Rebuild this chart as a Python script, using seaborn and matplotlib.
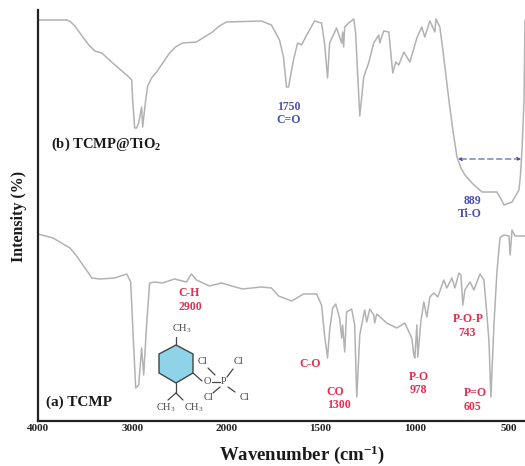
import numpy as np
import pandas as pd
import matplotlib
matplotlib.use("Agg")
import matplotlib.pyplot as plt
from matplotlib.patches import Polygon
import seaborn as sns

# ---- data ----
wn_b = [4000,3693,3651,3609,3524,3460,3397,3323,3207,3048,3005,2995,2974,2953,2931,2900,2889,2857,2836,2794,2741,2603,2540,2466,2318,2148,2074,2000,
        1814,1761,1718,1697,1689,1681,1670,1644,1622,1601,1574,1532,1495,1479,1463,1452,1415,1399,1388,1383,1378,1372,1351,1324,1314,
        1292,1271,1245,1218,1191,1186,1165,1138,1117,1101,1085,1058,1026,989,963,947,920,893,888,867,851,835,819,798,776,755,734,691,643,564,548,526,484,447,439,431,420,415]
int_b = [401,401,399,395,384,376,370,368,358,345,341,321,293,293,298,314,294,321,335,343,349,368,374,378,379,389,395,399,
         400,396,381,364,349,334,334,361,378,376,386,400,398,378,343,378,393,384,378,389,374,394,398,402,388,
         305,344,358,378,386,378,390,389,348,359,356,369,359,383,394,384,400,389,402,394,371,346,321,291,264,253,246,237,229,229,224,216,219,231,246,271,321,401]
wn_a = [4000,3841,3661,3598,3524,3471,3429,3344,3185,3058,3016,2995,2963,2931,2900,2878,2847,2815,2762,2678,2551,2424,2371,2318,2180,2053,
        1915,1814,1761,1723,1654,1590,1521,1495,1479,1463,1452,1436,1420,1399,1388,1383,1372,1362,1335,1319,1308,1292,1282,1266,1255,1239,1218,1213,1202,
        1149,1096,1053,1016,1005,1000,989,984,968,952,936,920,899,878,846,830,803,787,766,755,745,734,707,686,654,633,617,606,596,580,564,556,548,537,526,500,494,484,468,415]
int_a = [187,183,173,166,156,149,143,142,143,147,139,96,33,36,73,46,96,138,139,138,142,139,147,141,135,138,
         132,134,133,125,120,127,127,116,86,63,91,113,117,103,83,96,69,109,112,96,24,86,96,111,99,112,106,98,107,
         98,93,98,83,66,63,96,64,99,119,104,124,128,124,141,133,143,133,148,146,116,131,139,131,147,141,106,79,24,96,149,166,183,185,186,185,166,191,185,185]
x_ticks = [4000, 3000, 2000, 1500, 1000, 500]
arrow_span = [771, 436]
arrow_level = 262

BLUE = "#4a4fb0"
RED = "#e2304e"
DARK = "#222222"
GREY = "#b2b2b2"

sns.set_theme(style="white")
plt.rcParams["font.family"] = ["Liberation Serif", "DejaVu Serif"]
plt.rcParams["mathtext.default"] = "regular"

W, H = 525, 466
fig = plt.figure(figsize=(W / 100, H / 100), dpi=100, facecolor="white")
ax = fig.add_axes([38 / W, (H - 421) / H, (W - 38) / W, 411 / H])

df = pd.concat([
    pd.DataFrame({"wn": wn_b, "i": int_b, "s": "b"}),
    pd.DataFrame({"wn": wn_a, "i": int_a, "s": "a"}),
])
sns.lineplot(data=df, x="wn", y="i", units="s", estimator=None, sort=False,
             color=GREY, linewidth=1.1, ax=ax, legend=False)

def fwd(x):
    x = np.asarray(x, dtype=float)
    return np.where(x > 2000, 2000 + (x - 2000) * 0.5, x)

def inv(y):
    y = np.asarray(y, dtype=float)
    return np.where(y > 2000, 2000 + (y - 2000) * 2.0, y)

ax.set_xscale("function", functions=(fwd, inv))
ax.set_xlim(4000, 415)
ax.set_ylim(0, 411)
ax.set_xticks(x_ticks)
ax.set_xticklabels([str(t) for t in x_ticks], fontsize=8, fontweight="bold", color=DARK)
ax.minorticks_off()
ax.set_yticks([])
ax.tick_params(axis="x", length=0, pad=2)
ax.set_xlabel("")
ax.set_ylabel("")
for side in ("top", "right"):
    ax.spines[side].set_visible(False)
for side in ("left", "bottom"):
    ax.spines[side].set_color(DARK)
    ax.spines[side].set_linewidth(1.6)

ax.annotate("", xy=(arrow_span[0], arrow_level), xytext=(arrow_span[1], arrow_level),
            arrowprops=dict(arrowstyle="<|-|>", color=BLUE, lw=0.8, ls=(0, (5, 3)),
                            mutation_scale=5, shrinkA=0, shrinkB=0))

# overlay in picture coordinates for the annotations and the structure sketch
ov = fig.add_axes([0, 0, 1, 1], facecolor="none")
ov.set_xlim(0, W)
ov.set_ylim(H, 0)
ov.axis("off")

def t(x, y, s, color=DARK, size=8.5, weight="bold", **kw):
    ov.text(x, y, s, color=color, fontsize=size, fontweight=weight,
            ha=kw.pop("ha", "center"), va="center", **kw)

t(302, 455, "Wavenumber (cm$^{-1}$)", size=13.5, color="#1a1a1a")
t(19, 216, "Intensity (%)", size=11.5, rotation=90, color="#1a1a1a")
t(51, 144, "(b) TCMP@TiO$_2$", size=10.5, ha="left", color="#1a1a1a")
t(46, 402, "(a) TCMP", size=11, ha="left", color="#1a1a1a")

for x, y, s in [(289, 107, "1750"), (289, 120, "C=O"), (472, 201, "889"), (470, 214, "Ti-O")]:
    t(x, y, s, BLUE)
for x, y, s in [(189, 293, "C-H"), (190, 307, "2900"), (310, 364, "C-O"), (335, 392, "CO"),
                (339, 405, "1300"), (419, 377, "P-O"), (418, 390, "978"), (468, 319, "P-O-P"),
                (467, 333, "743"), (475, 393, "P=O"), (473, 407, "605")]:
    t(x, y, s, RED)

hexagon = [(176, 345), (193, 354), (193, 373), (176, 383), (159, 373), (159, 354)]
ov.add_patch(Polygon(hexagon, closed=True, facecolor="#8fd3e8", edgecolor="#444444", lw=1.0))
bonds = [((176, 345), (176, 337)), ((176, 383), (176, 393)), ((176, 393), (168, 400)),
         ((176, 393), (183, 400)), ((193, 373), (202, 381)), ((212, 382), (220, 382)),
         ((208, 368), (215, 375)), ((227, 377), (233, 369)), ((220, 387), (213, 393)),
         ((228, 387), (235, 392))]
for (x0, y0), (x1, y1) in bonds:
    ov.plot([x0, x1], [y0, y1], color="#444444", lw=0.9)
for x, y, s in [(182, 329, "CH$_3$"), (166, 408, "CH$_3$"), (194, 408, "CH$_3$"), (207, 382, "O"),
                (224, 382, "P"), (203, 362, "Cl"), (239, 362, "Cl"), (208, 398, "Cl"), (244, 397, "Cl")]:
    t(x, y, s, "#444444", size=7.5, weight="normal")

fig.savefig("out.png", dpi=100, facecolor="white")
